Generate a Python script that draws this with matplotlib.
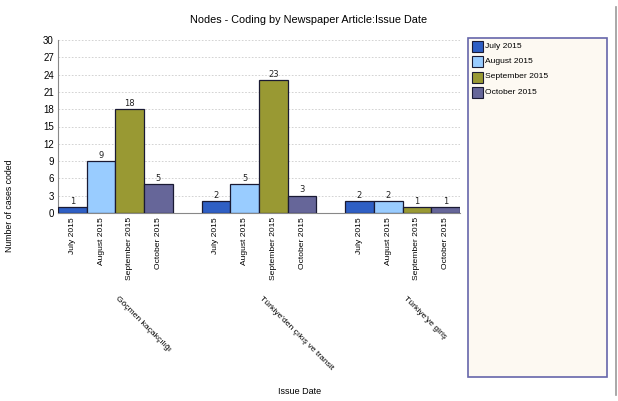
import matplotlib
matplotlib.use("Agg")
import matplotlib.pyplot as plt
import numpy as np
from matplotlib.patches import Rectangle
from matplotlib.lines import Line2D

groups = ["Göçmen kaçakçılığı", "Türkiye'den çıkış ve transit", "Türkiye'ye giriş"]
months = ["July 2015", "August 2015", "September 2015", "October 2015"]
values = {
    "July 2015": [1, 2, 2],
    "August 2015": [9, 5, 2],
    "September 2015": [18, 23, 1],
    "October 2015": [5, 3, 1],
}
colors = ["#2f5fc4", "#99ccff", "#999933", "#666699"]
yticks = list(range(0, 31, 3))

W, H = 618, 401
fig = plt.figure(figsize=(W / 100, H / 100), dpi=100)
fig.patch.set_facecolor("white")
ax = fig.add_axes([58 / W, (H - 213) / H, 402 / W, 173 / H])

positions = []
labels = []
for gi, g in enumerate(groups):
    for mi, m in enumerate(months):
        x = gi * 5 + mi
        v = values[m][gi]
        ax.bar(x, v, width=1.0, color=colors[mi], edgecolor="#1a1a33", linewidth=0.9, zorder=3)
        ax.text(x, v + 0.25, str(v), ha="center", va="bottom", fontsize=6, color="#222222", zorder=4)
        positions.append(x)
        labels.append(m)

ax.set_xlim(-0.5, 13.5)
ax.set_ylim(0, 30)
ax.set_yticks(yticks)
ax.set_yticklabels([str(t) for t in yticks], fontsize=7)
ax.set_xticks(positions)
ax.set_xticklabels(labels, rotation=90, fontsize=6.1, family="Liberation Sans")
for t in ax.get_yticklabels():
    t.set_family("Liberation Sans")
ax.tick_params(axis="both", length=0, pad=3)
ax.yaxis.grid(True, linestyle=(0, (2, 2)), color="#cccccc", linewidth=0.6, zorder=0)
ax.spines["top"].set_visible(False)
ax.spines["right"].set_visible(False)
ax.spines["left"].set_color("#888888")
ax.spines["bottom"].set_color("#888888")

# group labels
for gi, g in enumerate(groups):
    xc = gi * 5 + 1.5
    xpix = ax.transData.transform((xc, 0))[0]
    fig.text((xpix + 4) / W, 1 - 295 / H, g, rotation=-45, rotation_mode="anchor",
             ha="left", va="top", fontsize=6.1, family="Liberation Sans")

fig.text(309 / W, 1 - 20 / H, "Nodes - Coding by Newspaper Article:Issue Date",
         ha="center", va="center", fontsize=7.8, family="Liberation Sans")
fig.text(300 / W, 1 - 391 / H, "Issue Date", ha="center", va="center",
         fontsize=6.5, family="Liberation Sans")
fig.text(10 / W, 1 - 206 / H, "Number of cases coded", rotation=90, ha="center",
         va="center", fontsize=6.3, family="Liberation Sans")

# legend box
lx0, ly0, lx1, ly1 = 468, 38, 607, 377
fig.patches.append(Rectangle((lx0 / W, 1 - ly1 / H), (lx1 - lx0) / W, (ly1 - ly0) / H,
                             transform=fig.transFigure, facecolor="#fdf9f2",
                             edgecolor="#6666aa", linewidth=1.2))
for i, m in enumerate(months):
    yy = 46 + i * 15.5
    fig.patches.append(Rectangle((472 / W, 1 - (yy + 5.5) / H), 11 / W, 11 / H,
                                 transform=fig.transFigure, facecolor=colors[i],
                                 edgecolor="#1a1a33", linewidth=0.8))
    fig.text(485 / W, 1 - yy / H, m, ha="left", va="center", fontsize=6.1,
             family="Liberation Sans")

fig.lines.append(Line2D([616 / W, 616 / W], [1 - 7 / H, 1 - 395 / H],
                        transform=fig.transFigure, color="#999999", linewidth=1.2))

fig.savefig("out.png", dpi=100)
